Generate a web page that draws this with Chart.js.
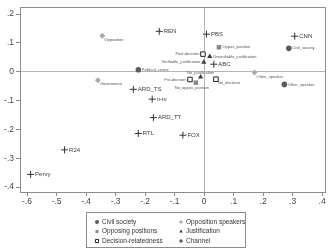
<!DOCTYPE html>
<html>
<head>
<meta charset="utf-8">
<script src="https://cdn.jsdelivr.net/npm/chart.js@4.4.0/dist/chart.umd.min.js"></script>
<style>
  html, body { margin: 0; padding: 0; background: #fff; }
  #wrap { width: 331px; height: 251px; position: relative; }
</style>
</head>
<body>
<div id="wrap"><canvas id="chart"></canvas></div>
<script>
// Civil society
const civilLabels = ['Civil_society', 'Political_center', 'Other_speaker'];
const civilX = [0.287, -0.223, 0.272];
const civilY = [0.081, 0.007, -0.044];
// Opposition speakers
const oppLabels = ['Opposition', 'Government', 'Other_speaker'];
const oppX = [-0.345, -0.36, 0.171];
const oppY = [0.125, -0.03, -0.003];
// Opposing positions
const posLabels = ['Oppos_position', 'No_oppos_position'];
const posX = [0.05, -0.028];
const posY = [0.085, -0.038];
// Justification
const justLabels = ['Unverifiable_justification', 'Verifiable_justification', 'No_justification'];
const justX = [0.019, -0.001, -0.012];
const justY = [0.053, 0.033, -0.018];
// Decision-relatedness
const decLabels = ['Post-decision', 'Pre-decision', 'No_decision'];
const decX = [-0.004, -0.048, 0.04];
const decY = [0.061, -0.027, -0.026];
// Channel
const chanLabels = ['REN', 'PBS', 'CNN', 'ABC', 'ARD_TS', 'n-tv', 'ARD_TT', 'RTL', 'FOX', 'R24', 'Pervy'];
const chanX = [-0.152, 0.008, 0.307, 0.033, -0.24, -0.176, -0.172, -0.223, -0.072, -0.473, -0.588];
const chanY = [0.14, 0.13, 0.123, 0.026, -0.061, -0.095, -0.159, -0.214, -0.22, -0.271, -0.356];

const xTicks = [-0.6, -0.5, -0.4, -0.3, -0.2, -0.1, 0, 0.1, 0.2, 0.3, 0.4];
const yTicks = [0.2, 0.1, 0, -0.1, -0.2, -0.3, -0.4];

// where each point label sits relative to its marker
const civilPos = ['r', 'r', 'r'];
const oppPos = ['rb', 'rb', 'rb'];
const posPos = ['r', 'b'];
const justPos = ['r', 'l', 't'];
const decPos = ['l', 'l', 'rb'];
const chanPos = chanLabels.map(() => 'c');

const pts = (xs, ys) => xs.map((x, i) => ({ x: x, y: ys[i] }));

function fmt(v) {
    if (Math.abs(v) < 1e-9) return '0';
    return v.toFixed(1).replace('0.', '.');
}

const groups = [
    { label: 'Civil society', data: pts(civilX, civilY), names: civilLabels, place: civilPos,
      pointStyle: 'circle', pointRadius: 2.8, backgroundColor: '#5a5a5a', borderColor: '#5a5a5a', borderWidth: 0 },
    { label: 'Opposition speakers', data: pts(oppX, oppY), names: oppLabels, place: oppPos,
      pointStyle: 'rectRot', pointRadius: 3, backgroundColor: '#ababab', borderColor: '#ababab', borderWidth: 0 },
    { label: 'Opposing positions', data: pts(posX, posY), names: posLabels, place: posPos,
      pointStyle: 'rect', pointRadius: 3.2, backgroundColor: '#8a8a8a', borderColor: '#8a8a8a', borderWidth: 0 },
    { label: 'Justification', data: pts(justX, justY), names: justLabels, place: justPos,
      pointStyle: 'triangle', pointRadius: 3, backgroundColor: '#3a3a3a', borderColor: '#3a3a3a', borderWidth: 0 },
    { label: 'Decision-relatedness', data: pts(decX, decY), names: decLabels, place: decPos,
      pointStyle: 'rect', pointRadius: 3.2, backgroundColor: '#ffffff', borderColor: '#222', borderWidth: 1 },
    { label: 'Channel', data: pts(chanX, chanY), names: chanLabels, place: chanPos,
      pointStyle: 'cross', pointRadius: 3.5, backgroundColor: '#333', borderColor: '#333', borderWidth: 1 }
];

// frame round the plot area
const framePlugin = {
    id: 'frame',
    beforeDatasetsDraw(chart) {
        const a = chart.chartArea;
        const ctx = chart.ctx;
        ctx.save();
        ctx.strokeStyle = '#8c8c8c';
        ctx.lineWidth = 1;
        ctx.strokeRect(Math.round(a.left) + 0.5, Math.round(a.top) + 0.5,
            Math.round(a.right - a.left) - 1, Math.round(a.bottom - a.top));
        ctx.restore();
    }
};

// text next to each marker
const pointLabels = {
    id: 'pointLabels',
    afterDatasetsDraw(chart) {
        const ctx = chart.ctx;
        ctx.save();
        chart.data.datasets.forEach((ds, di) => {
            const meta = chart.getDatasetMeta(di);
            meta.data.forEach((el, i) => {
                const name = ds.names[i];
                const p = ds.place[i];
                let x = el.x, y = el.y;
                if (p === 'c') {
                    ctx.font = '6px Arial, "Liberation Sans", sans-serif';
                    ctx.fillStyle = '#3a3a3a';
                } else {
                    ctx.font = '4px Arial, "Liberation Sans", sans-serif';
                    ctx.fillStyle = '#555';
                }
                ctx.textBaseline = 'middle';
                if (p === 'c') { ctx.textAlign = 'left'; x += 4.5; }
                else if (p === 'r') { ctx.textAlign = 'left'; x += 3.5; }
                else if (p === 'rb') { ctx.textAlign = 'left'; x += 2; y += 4; }
                else if (p === 'l') { ctx.textAlign = 'right'; x -= 3.5; }
                else if (p === 't') { ctx.textAlign = 'center'; y -= 4.5; }
                else if (p === 'b') { ctx.textAlign = 'center'; x -= 4; y += 5.5; }
                ctx.fillText(name, x, y);
            });
        });
        ctx.restore();
    }
};

// boxed two-column legend under the axis
const boxLegend = {
    id: 'boxLegend',
    afterDraw(chart) {
        const ctx = chart.ctx;
        const left = 86, top = 212, w = 159, h = 35;
        ctx.save();
        ctx.strokeStyle = '#8c8c8c';
        ctx.lineWidth = 1;
        ctx.strokeRect(left + 0.5, top + 0.5, w, h);
        ctx.font = '6.5px Arial, "Liberation Sans", sans-serif';
        ctx.textBaseline = 'middle';
        ctx.textAlign = 'left';
        const colX = [97, 181];
        const rowY = [222, 231.5, 241];
        chart.data.datasets.forEach((ds, i) => {
            const cx = colX[i % 2], cy = rowY[Math.floor(i / 2)];
            ctx.fillStyle = ds.backgroundColor;
            ctx.strokeStyle = ds.borderColor;
            ctx.lineWidth = ds.borderWidth || 1;
            Chart.helpers.drawPoint(ctx, {
                pointStyle: ds.pointStyle,
                radius: ds.pointStyle === 'rect' ? 2.2 : 2,
                rotation: 0,
                borderWidth: ds.borderWidth
            }, cx, cy);
            ctx.fillStyle = '#333';
            ctx.fillText(ds.label, cx + 5, cy);
        });
        ctx.restore();
    }
};

const tickFont = { family: 'Arial, "Liberation Sans", sans-serif', size: 8.5 };

new Chart(document.getElementById('chart'), {
    type: 'scatter',
    data: { datasets: groups },
    options: {
        responsive: true,
        maintainAspectRatio: false,
        animation: false,
        layout: { padding: { top: 3, right: 4, bottom: 44, left: 0 } },
        plugins: {
            legend: { display: false },
            tooltip: { enabled: false }
        },
        scales: {
            x: {
                type: 'linear',
                min: -0.624,
                max: 0.413,
                afterBuildTicks: (s) => { s.ticks = xTicks.map(v => ({ value: v })); },
                afterFit: (s) => { s.height = 15; },
                ticks: { callback: (v) => fmt(v), font: tickFont, color: '#444', padding: 1, maxRotation: 0, autoSkip: false },
                grid: {
                    color: (c) => (c.tick && c.tick.value === 0 ? '#b4b4b4' : 'rgba(0,0,0,0)'),
                    tickColor: '#8c8c8c',
                    tickLength: 4,
                    lineWidth: 1
                },
                border: { display: false }
            },
            y: {
                type: 'linear',
                min: -0.417,
                max: 0.224,
                afterBuildTicks: (s) => { s.ticks = yTicks.map(v => ({ value: v })); },
                afterFit: (s) => { s.width = 20; },
                ticks: { callback: (v) => fmt(v), font: tickFont, color: '#444', padding: 2, autoSkip: false },
                grid: {
                    color: (c) => (c.tick && c.tick.value === 0 ? '#b4b4b4' : 'rgba(0,0,0,0)'),
                    tickColor: '#8c8c8c',
                    tickLength: 4,
                    lineWidth: 1
                },
                border: { display: false }
            }
        }
    },
    plugins: [framePlugin, pointLabels, boxLegend]
});
</script>
</body>
</html>
